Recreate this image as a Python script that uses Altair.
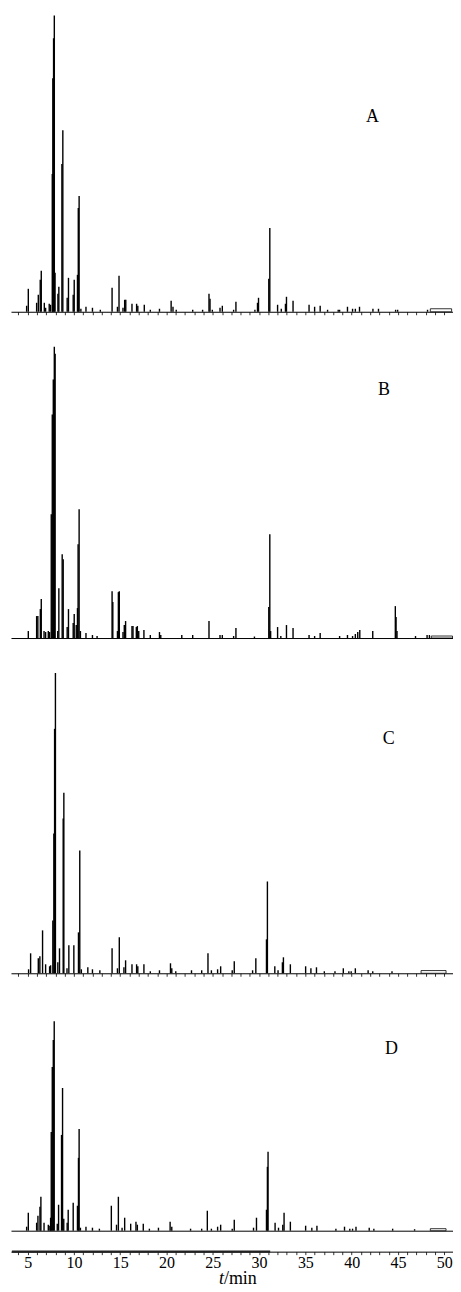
import altair as alt
import pandas as pd

# ---------------- data (retention time, min / relative abundance) ----------------
X_DOMAIN = [3.2, 50.95]

A_t = [4.89, 5.07, 5.97, 6.15, 6.36, 6.47, 6.80, 6.94, 7.33, 7.47, 7.66, 7.72, 7.80, 7.88, 7.96,
       8.27, 8.37, 8.70, 8.80, 9.27, 9.41, 9.92, 10.03, 10.38, 10.47, 10.56, 10.75, 11.30, 12.00,
       12.85, 14.12, 14.70, 14.87, 15.30, 15.48, 15.60, 16.27, 16.77, 16.90, 17.60, 18.25, 19.24,
       20.50, 20.70, 21.05, 22.83, 23.90, 24.59, 24.70, 24.95, 25.78, 26.03, 27.25, 27.50, 29.55,
       29.83, 29.94, 31.05, 31.16, 32.00, 32.40, 32.85, 32.96, 33.67, 35.40, 36.00, 36.60, 37.40,
       38.55, 38.70, 39.55, 40.10, 40.40, 40.85, 42.30, 42.90, 44.75, 44.97, 48.20]
A_h = [6, 23, 9, 17, 32, 41, 9, 4, 8, 7, 138, 234, 274, 297, 39,
       18, 25, 148, 182, 14, 34, 17, 32, 37, 104, 116, 3, 5, 4,
       2, 24, 5, 36, 4, 12, 12, 8, 8, 6, 7, 2, 3,
       11, 5, 2, 2, 2, 18, 13, 2, 4, 6, 2, 10, 2,
       9, 14, 33, 84, 7, 3, 8, 15, 11, 7, 5, 6, 2,
       2, 2, 5, 3, 3, 5, 3, 3, 2, 2, 2]

B_t = [5.07, 5.97, 6.10, 6.37, 6.47, 6.77, 6.94, 7.23, 7.37, 7.55, 7.66, 7.77, 7.88, 7.97,
       8.25, 8.37, 8.73, 8.84, 9.27, 9.41, 9.92, 10.03, 10.25, 10.38, 10.45, 10.56, 10.70, 11.30,
       12.00, 12.50, 14.12, 14.20, 14.70, 14.80, 14.90, 15.30, 15.44, 15.58, 16.27, 16.38, 16.74,
       16.85, 17.00, 17.56, 18.25, 19.24, 19.38, 21.65, 22.83, 24.59, 25.78, 26.03, 27.25, 27.50,
       29.50, 31.05, 31.16, 31.25, 32.00, 32.35, 32.96, 33.67, 35.40, 36.00, 36.60, 38.70, 39.55,
       40.10, 40.40, 40.66, 40.88, 42.28, 44.72, 44.80, 44.90, 46.90, 48.15, 48.40]
B_h = [7, 22, 22, 29, 39, 7, 6, 7, 6, 124, 224, 259, 292, 285,
       7, 50, 84, 79, 11, 29, 15, 24, 13, 30, 94, 129, 7, 5,
       3, 2, 47, 36, 7, 46, 47, 6, 13, 17, 12, 12, 11,
       12, 7, 8, 3, 6, 3, 3, 3, 17, 3, 3, 2, 10,
       1.5, 31, 104, 7, 11, 2, 13, 10, 3, 2, 5, 2, 3,
       2, 4, 6, 8, 7, 32, 21, 7, 2, 3, 3]

C_t = [5.10, 5.32, 6.15, 6.32, 6.61, 6.94, 7.37, 7.48, 7.72, 7.83, 7.91, 8.00, 8.26, 8.44,
       8.84, 8.91, 9.25, 9.45, 9.99, 10.49, 10.63, 10.80, 11.50, 12.00, 12.80, 14.12, 14.70,
       14.90, 15.40, 15.58, 16.27, 16.77, 16.90, 17.56, 18.25, 19.24, 20.43, 20.57, 21.00, 22.70,
       23.80, 24.48, 24.85, 25.52, 25.85, 27.10, 27.32, 29.30, 29.65, 30.80, 30.90, 31.70, 32.05,
       32.52, 32.63, 33.38, 35.03, 35.60, 36.20, 37.05, 38.20, 39.10, 39.70, 39.95, 40.40, 41.78,
       42.28, 44.36]
C_h = [4, 20, 15, 17, 43, 9, 7, 8, 53, 140, 245, 301, 11, 25,
       155, 181, 5, 28, 28, 41, 123, 4, 6, 4, 3, 25, 5,
       36, 6, 13, 9, 9, 7, 9, 2, 3, 10, 5, 2, 3,
       3, 20, 3, 4, 7, 3, 12, 3, 15, 34, 92, 7, 3,
       11, 16, 9, 7, 5, 6, 2, 2, 5, 2, 2, 5, 3,
       2, 2]

D_t = [4.89, 5.07, 5.97, 6.11, 6.33, 6.43, 6.77, 7.23, 7.40, 7.48, 7.55, 7.66, 7.77, 7.87,
       8.20, 8.34, 8.66, 8.77, 8.90, 9.27, 9.38, 9.92, 10.38, 10.49, 10.56, 10.70, 11.30, 12.00,
       12.75, 14.04, 14.60, 14.80, 15.20, 15.48, 16.13, 16.70, 16.85, 17.49, 18.15, 19.13, 20.39,
       20.57, 22.60, 23.80, 24.41, 24.85, 25.52, 25.85, 27.10, 27.32, 29.40, 29.72, 30.80, 30.90,
       30.97, 31.73, 32.10, 32.56, 32.70, 33.38, 35.03, 35.70, 36.25, 38.30, 39.23, 39.80, 40.10,
       40.47, 41.90, 42.40, 44.43, 46.80]
D_h = [4, 18, 8, 15, 24, 34, 8, 6, 5, 13, 99, 164, 191, 210,
       7, 26, 96, 143, 12, 8, 21, 28, 25, 73, 102, 3, 4, 3,
       2, 25, 6, 34, 3, 13, 7, 9, 6, 7, 2, 3, 9,
       4, 2, 2, 20, 2, 4, 6, 2, 11, 3, 13, 21, 64,
       79, 8, 3, 6, 18, 9, 5, 3, 5, 2, 4, 2, 2,
       4, 3, 2, 2, 1.5]

# broad low hump at the end of each run: start, end, height
HUMPS = {"A": [48.5, 50.8, 3], "B": [48.6, 50.9, 2], "C": [47.5, 50.2, 2.7], "D": [48.5, 50.2, 2]}
# panel label positions (time, abundance)
LABELS = {"A": [42.25, 195], "B": [43.5, 249], "C": [44.0, 235], "D": [44.3, 182]}
# scale maximum for each panel
YMAX = {"A": 303, "B": 323, "C": 335, "D": 254}
TICK_PANELS = {"A": True, "B": False, "C": True, "D": False}

BLANK_RANGE = [3.3, 31.2]
TICK_VALUES = list(range(4, 51))
XTITLE_AT = 26.2

SERIF = "Liberation Serif"
W = 443


def xaxis(ticks, labels=False):
    kw = dict(values=TICK_VALUES, domain=True, domainColor="black", domainWidth=1,
              ticks=ticks, tickSize=3, tickColor="black", tickWidth=0.8,
              grid=False, title=None, labels=labels)
    if labels:
        kw.update(labelExpr="datum.value % 5 === 0 ? datum.label : ''",
                  labelFont=SERIF, labelFontSize=16, labelColor="black",
                  labelPadding=0, labelOverlap=False, labelFlush=False)
    return alt.Axis(**kw)


def panel(name, t, h):
    ax = xaxis(TICK_PANELS[name])
    xs = alt.Scale(domain=X_DOMAIN, nice=False, zero=False)
    ys = alt.Scale(domain=[0, YMAX[name]], nice=False)
    df = pd.DataFrame({"t": t, "h": h})
    peaks = alt.Chart(df).mark_rule(color="black", strokeWidth=1.4).encode(
        x=alt.X("t:Q", scale=xs, axis=ax),
        y=alt.Y("h:Q", scale=ys, axis=None),
        y2=alt.datum(0),
    )
    hs, he, hh = HUMPS[name]
    hump = alt.Chart(pd.DataFrame({"t": [hs], "t2": [he], "h": [hh]})).mark_rect(
        fill="white", stroke="black", strokeWidth=0.8
    ).encode(
        x=alt.X("t:Q", scale=xs, axis=ax),
        x2="t2:Q",
        y=alt.Y("h:Q", scale=ys, axis=None),
        y2=alt.datum(0),
    )
    lt, lh = LABELS[name]
    lab = alt.Chart(pd.DataFrame({"t": [lt], "h": [lh], "s": [name]})).mark_text(
        font=SERIF, fontSize=18, color="black"
    ).encode(
        x=alt.X("t:Q", scale=xs, axis=ax),
        y=alt.Y("h:Q", scale=ys, axis=None),
        text="s:N",
    )
    return alt.layer(peaks, hump, lab).properties(width=W, height=YMAX[name])


pA = panel("A", A_t, A_h)
pB = panel("B", B_t, B_h)
pC = panel("C", C_t, C_h)
pD = panel("D", D_t, D_h)

# bottom time axis with the compressed trace segment
xs = alt.Scale(domain=X_DOMAIN, nice=False, zero=False)
bax = xaxis(True, labels=True)
blank = alt.Chart(pd.DataFrame({"t": [BLANK_RANGE[0]], "t2": [BLANK_RANGE[1]], "y": [0]})).mark_rule(
    color="#222222", strokeWidth=2.2
).encode(
    x=alt.X("t:Q", scale=xs, axis=bax),
    x2="t2:Q",
    y=alt.Y("y:Q", scale=alt.Scale(domain=[0, 1]), axis=None),
)
t_it = alt.Chart(pd.DataFrame({"t": [XTITLE_AT], "s": ["t"]})).mark_text(
    font=SERIF, fontSize=18, fontStyle="italic", align="right", baseline="middle", color="black"
).encode(x=alt.X("t:Q", scale=xs, axis=bax), y=alt.value(47), text="s:N")
t_min = alt.Chart(pd.DataFrame({"t": [XTITLE_AT], "s": ["/min"]})).mark_text(
    font=SERIF, fontSize=18, align="left", baseline="middle", color="black"
).encode(x=alt.X("t:Q", scale=xs, axis=bax), y=alt.value(47), text="s:N")
pE = alt.layer(blank, t_it, t_min).properties(width=W, height=20)

chart = alt.vconcat(pA, pB, pC, pD, pE, spacing=0).properties(
    padding={"left": 2, "top": 0, "right": 0, "bottom": 0}
).configure(
    background="white", font=SERIF
).configure_view(
    stroke=None
).configure_axis(
    labelFont=SERIF
)

chart.save("out.html", embed_options={"renderer": "svg", "actions": False})
